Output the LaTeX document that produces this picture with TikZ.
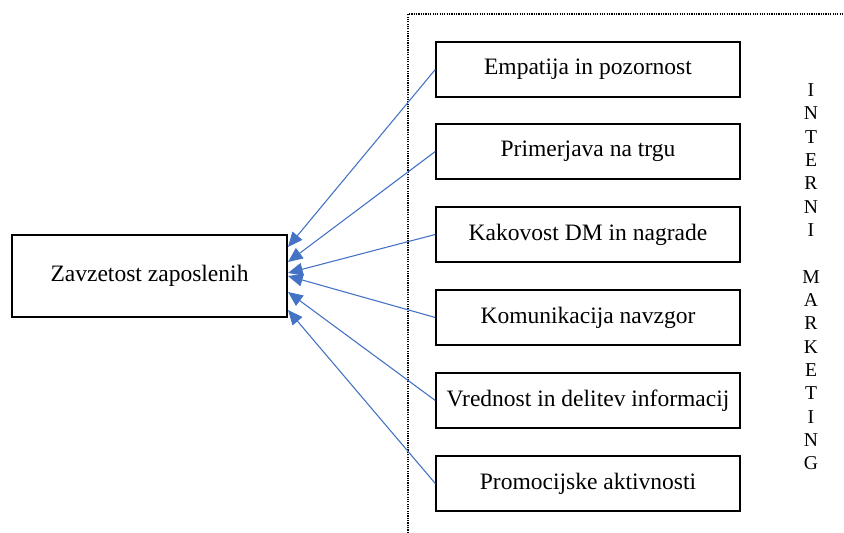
\documentclass[tikz,border=0pt]{standalone}
\usepackage{fontspec}
\setmainfont{Liberation Serif}
\usetikzlibrary{arrows.meta}
\definecolor{arrowblue}{RGB}{68,114,196}
\begin{document}
\begin{tikzpicture}[x=0.51pt,y=-0.51pt,
  box/.style={draw=black,line width=0.75pt,minimum width=155pt,minimum height=28pt,inner sep=0pt,font=\fontsize{12}{14}\selectfont},
  mainbox/.style={box,minimum width=140.25pt,minimum height=41.8pt},
  conn/.style={draw=arrowblue,line width=0.55pt,-{Triangle[length=7.5pt,width=6.5pt]}},
  frame/.style={draw=black,line width=0.6pt,dash pattern=on 0.6pt off 0.6pt},
  vert/.style={align=center,inner sep=0pt,font=\fontsize{10}{11.9}\selectfont}]
\useasboundingbox (0,0) rectangle (844,533);

% dotted frame
\coordinate (fa) at (408,533);
\coordinate (fb) at (408,14);
\coordinate (fc) at (844,14);
\draw[frame] (fa) -- (fb) -- (fc);

% main box
\node[mainbox] (zav) at (149.5,276) {Zavzetost zaposlenih};

% right boxes
\node[box] (b1) at (588,69.5) {Empatija in pozornost};
\node[box] (b2) at (588,151.5) {Primerjava na trgu};
\node[box] (b3) at (588,234.5) {Kakovost DM in nagrade};
\node[box] (b4) at (588,317.5) {Komunikacija navzgor};
\node[box] (b5) at (588,400.5) {Vrednost in delitev informacij};
\node[box] (b6) at (588,483.5) {Promocijske aktivnosti};

% arrow targets on the right side of the main box
\coordinate (t1) at (288,247);
\coordinate (t2) at (288,262);
\coordinate (t3) at (288,273);
\coordinate (t4) at (288,276);
\coordinate (t5) at (288,292);
\coordinate (t6) at (288,310);

\draw[conn] (b1.west) -- (t1);
\draw[conn] (b2.west) -- (t2);
\draw[conn] (b3.west) -- (t3);
\draw[conn] (b4.west) -- (t4);
\draw[conn] (b5.west) -- (t5);
\draw[conn] (b6.west) -- (t6);

% vertical label
\node[vert] (lab) at (811,277) {I\\N\\T\\E\\R\\N\\I\\~\\M\\A\\R\\K\\E\\T\\I\\N\\G};
\end{tikzpicture}
\end{document}
